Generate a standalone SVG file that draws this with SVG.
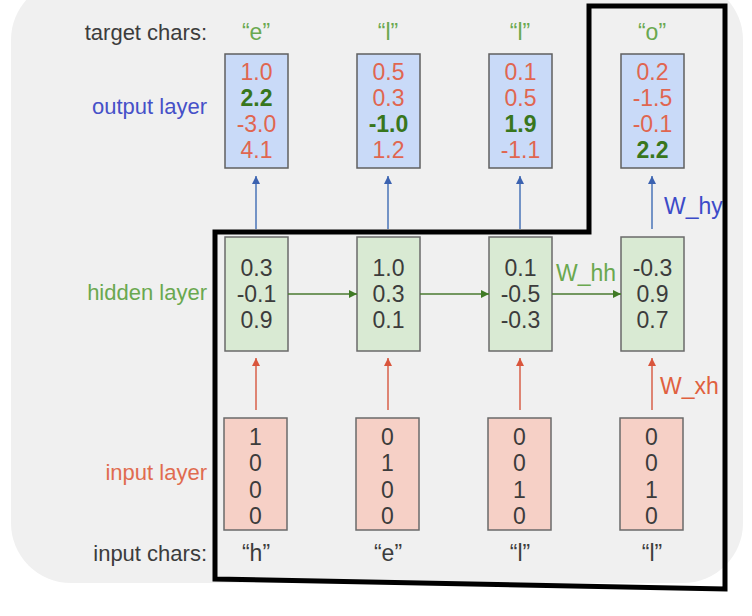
<svg xmlns="http://www.w3.org/2000/svg" width="752" height="616" viewBox="0 0 752 616">
<style>
  text { font-family: "Liberation Sans", Arial, sans-serif; font-size: 23px; }
  .lab { font-size: 22px; }
  .c { text-anchor: middle; }
  .r { text-anchor: end; }
  .dark { fill: #3c3c3c; }
  .red { fill: #e06650; }
  .bg { fill: #38761d; font-weight: bold; }
  .lg { fill: #6aa84f; }
  .blue { fill: #4650c8; }
  .out { fill: #c9daf8; stroke: #5f5f5f; stroke-width: 1.5; }
  .hid { fill: #d9ead3; stroke: #6a6a6a; stroke-width: 1.5; }
  .inp { fill: #f6d0c6; stroke: #6a6a6a; stroke-width: 1.5; }
  .ab { stroke: #4a74b8; stroke-width: 1.5; fill: none; marker-end: url(#mb); }
  .ag { stroke: #4a7a30; stroke-width: 1.5; fill: none; marker-end: url(#mg); }
  .ar { stroke: #d9604a; stroke-width: 1.5; fill: none; marker-end: url(#mr); }
</style>
<defs>
  <marker id="mb" viewBox="0 0 10 10" refX="10" refY="5" markerWidth="9" markerHeight="8" orient="auto" markerUnits="userSpaceOnUse"><path d="M0,0 L10,5 L0,10 z" fill="#3b62b0"/></marker>
  <marker id="mg" viewBox="0 0 10 10" refX="10" refY="5" markerWidth="9" markerHeight="8" orient="auto" markerUnits="userSpaceOnUse"><path d="M0,0 L10,5 L0,10 z" fill="#3f7a25"/></marker>
  <marker id="mr" viewBox="0 0 10 10" refX="10" refY="5" markerWidth="9" markerHeight="8" orient="auto" markerUnits="userSpaceOnUse"><path d="M0,0 L10,5 L0,10 z" fill="#d9553c"/></marker>
</defs>
<rect x="0" y="0" width="752" height="616" fill="#ffffff"/>
<rect x="11" y="-20" width="732" height="603" rx="60" ry="60" fill="#f0f0f0"/>

<g id="labels">
  <text x="207" y="40" class="r dark lab">target chars:</text>
  <text x="207" y="114" class="r blue lab">output layer</text>
  <text x="207" y="300" class="r lg lab">hidden layer</text>
  <text x="207" y="480" class="r lab" fill="#e06c4f">input layer</text>
  <text x="207" y="561" class="r dark lab">input chars:</text>
</g>

<g id="targets">
  <text x="256" y="40" class="c lg">“e”</text>
  <text x="388" y="40" class="c lg">“l”</text>
  <text x="520" y="40" class="c lg">“l”</text>
  <text x="652" y="40" class="c lg">“o”</text>
</g>

<g id="out1"><rect x="225" y="54" width="63" height="114" class="out"/>
  <text x="256.5" y="80" class="c red">1.0</text><text x="256.5" y="106" class="c bg">2.2</text><text x="256.5" y="132" class="c red">-3.0</text><text x="256.5" y="158" class="c red">4.1</text></g>
<g id="out2"><rect x="357" y="54" width="63" height="114" class="out"/>
  <text x="388.5" y="80" class="c red">0.5</text><text x="388.5" y="106" class="c red">0.3</text><text x="388.5" y="132" class="c bg">-1.0</text><text x="388.5" y="158" class="c red">1.2</text></g>
<g id="out3"><rect x="489" y="54" width="63" height="114" class="out"/>
  <text x="520.5" y="80" class="c red">0.1</text><text x="520.5" y="106" class="c red">0.5</text><text x="520.5" y="132" class="c bg">1.9</text><text x="520.5" y="158" class="c red">-1.1</text></g>
<g id="out4"><rect x="621" y="54" width="63" height="114" class="out"/>
  <text x="652.5" y="80" class="c red">0.2</text><text x="652.5" y="106" class="c red">-1.5</text><text x="652.5" y="132" class="c red">-0.1</text><text x="652.5" y="158" class="c bg">2.2</text></g>

<g id="hid1"><rect x="225" y="237" width="63" height="114" class="hid"/>
  <text x="256.5" y="276" class="c dark">0.3</text><text x="256.5" y="302" class="c dark">-0.1</text><text x="256.5" y="328" class="c dark">0.9</text></g>
<g id="hid2"><rect x="357" y="237" width="63" height="114" class="hid"/>
  <text x="388.5" y="276" class="c dark">1.0</text><text x="388.5" y="302" class="c dark">0.3</text><text x="388.5" y="328" class="c dark">0.1</text></g>
<g id="hid3"><rect x="489" y="237" width="63" height="114" class="hid"/>
  <text x="520.5" y="276" class="c dark">0.1</text><text x="520.5" y="302" class="c dark">-0.5</text><text x="520.5" y="328" class="c dark">-0.3</text></g>
<g id="hid4"><rect x="621" y="237" width="63" height="114" class="hid"/>
  <text x="652.5" y="276" class="c dark">-0.3</text><text x="652.5" y="302" class="c dark">0.9</text><text x="652.5" y="328" class="c dark">0.7</text></g>

<g id="in1"><rect x="224" y="418" width="63" height="112" class="inp"/>
  <text x="255.5" y="445" class="c dark">1</text><text x="255.5" y="471" class="c dark">0</text><text x="255.5" y="498" class="c dark">0</text><text x="255.5" y="524" class="c dark">0</text></g>
<g id="in2"><rect x="356" y="418" width="63" height="112" class="inp"/>
  <text x="387.5" y="445" class="c dark">0</text><text x="387.5" y="471" class="c dark">1</text><text x="387.5" y="498" class="c dark">0</text><text x="387.5" y="524" class="c dark">0</text></g>
<g id="in3"><rect x="488" y="418" width="63" height="112" class="inp"/>
  <text x="519.5" y="445" class="c dark">0</text><text x="519.5" y="471" class="c dark">0</text><text x="519.5" y="498" class="c dark">1</text><text x="519.5" y="524" class="c dark">0</text></g>
<g id="in4"><rect x="620" y="418" width="63" height="112" class="inp"/>
  <text x="651.5" y="445" class="c dark">0</text><text x="651.5" y="471" class="c dark">0</text><text x="651.5" y="498" class="c dark">1</text><text x="651.5" y="524" class="c dark">0</text></g>

<g id="inchars">
  <text x="256" y="561" class="c dark">“h”</text>
  <text x="388" y="561" class="c dark">“e”</text>
  <text x="520" y="561" class="c dark">“l”</text>
  <text x="652" y="561" class="c dark">“l”</text>
</g>

<g id="connectors">
  <line x1="256" y1="229" x2="256" y2="176" class="ab"/>
  <line x1="388" y1="229" x2="388" y2="176" class="ab"/>
  <line x1="520" y1="229" x2="520" y2="176" class="ab"/>
  <line x1="652" y1="229" x2="652" y2="176" class="ab"/>
  <line x1="288" y1="294" x2="357" y2="294" class="ag"/>
  <line x1="420" y1="294" x2="489" y2="294" class="ag"/>
  <line x1="552" y1="294" x2="621" y2="294" class="ag"/>
  <line x1="256" y1="410" x2="256" y2="358" class="ar"/>
  <line x1="388" y1="410" x2="388" y2="358" class="ar"/>
  <line x1="520" y1="410" x2="520" y2="358" class="ar"/>
  <line x1="652" y1="410" x2="652" y2="358" class="ar"/>
  <text x="664" y="214" fill="#3c4bc8">W_hy</text>
  <text x="556" y="281" class="lg">W_hh</text>
  <text x="660" y="394" fill="#e0603f">W_xh</text>
</g>

<g id="outline">
  <path d="M215,232 L589,232 L589,6 L725,6 L725,589 L215,579 Z" fill="none" stroke="#000000" stroke-width="5" stroke-linejoin="miter"/>
</g>
</svg>
